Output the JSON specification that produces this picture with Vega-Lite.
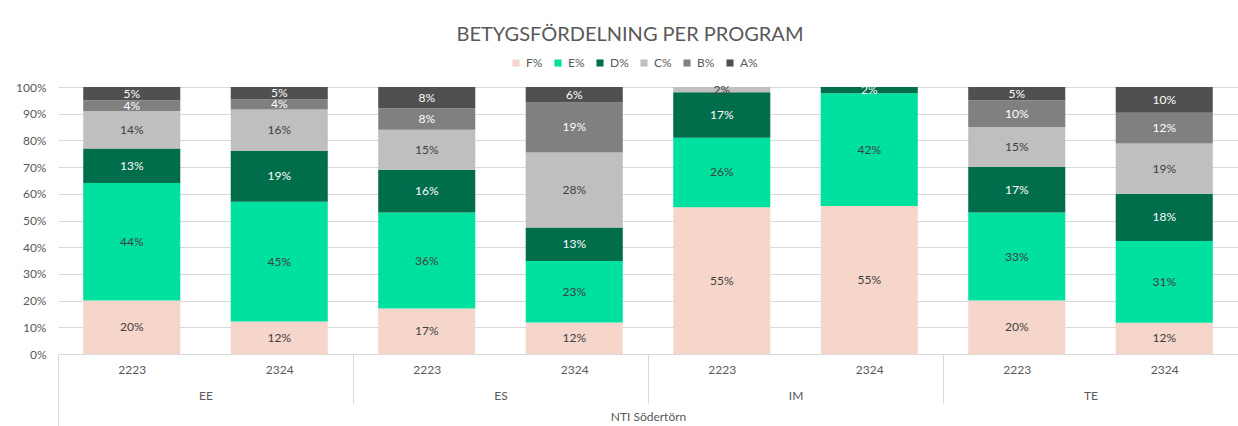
{
  "$schema": "https://vega.github.io/schema/vega-lite/v6.json",
  "width": 1180,
  "height": 267,
  "autosize": {"type": "none"},
  "padding": {"left": 58, "top": 87, "right": 0, "bottom": 72},
  "background": "white",
  "config": {"font": "Lato", "view": {"stroke": null}},
  "title": {"text": "BETYGSFÖRDELNING PER PROGRAM", "fontSize": 20, "fontWeight": "normal", "color": "#595959", "anchor": "middle", "dx": -18, "offset": 12},
  "data": {"values": [
    {"Kategori": "EE|2223", "Program": "EE", "Läsår": "2223", "Betyg": "F%", "Andel": 0.20},
    {"Kategori": "EE|2223", "Program": "EE", "Läsår": "2223", "Betyg": "E%", "Andel": 0.44},
    {"Kategori": "EE|2223", "Program": "EE", "Läsår": "2223", "Betyg": "D%", "Andel": 0.13},
    {"Kategori": "EE|2223", "Program": "EE", "Läsår": "2223", "Betyg": "C%", "Andel": 0.14},
    {"Kategori": "EE|2223", "Program": "EE", "Läsår": "2223", "Betyg": "B%", "Andel": 0.04},
    {"Kategori": "EE|2223", "Program": "EE", "Läsår": "2223", "Betyg": "A%", "Andel": 0.05},
    {"Kategori": "EE|2324", "Program": "EE", "Läsår": "2324", "Betyg": "F%", "Andel": 0.122},
    {"Kategori": "EE|2324", "Program": "EE", "Läsår": "2324", "Betyg": "E%", "Andel": 0.448},
    {"Kategori": "EE|2324", "Program": "EE", "Läsår": "2324", "Betyg": "D%", "Andel": 0.19},
    {"Kategori": "EE|2324", "Program": "EE", "Läsår": "2324", "Betyg": "C%", "Andel": 0.156},
    {"Kategori": "EE|2324", "Program": "EE", "Läsår": "2324", "Betyg": "B%", "Andel": 0.038},
    {"Kategori": "EE|2324", "Program": "EE", "Läsår": "2324", "Betyg": "A%", "Andel": 0.046},
    {"Kategori": "ES|2223", "Program": "ES", "Läsår": "2223", "Betyg": "F%", "Andel": 0.17},
    {"Kategori": "ES|2223", "Program": "ES", "Läsår": "2223", "Betyg": "E%", "Andel": 0.36},
    {"Kategori": "ES|2223", "Program": "ES", "Läsår": "2223", "Betyg": "D%", "Andel": 0.16},
    {"Kategori": "ES|2223", "Program": "ES", "Läsår": "2223", "Betyg": "C%", "Andel": 0.15},
    {"Kategori": "ES|2223", "Program": "ES", "Läsår": "2223", "Betyg": "B%", "Andel": 0.08},
    {"Kategori": "ES|2223", "Program": "ES", "Läsår": "2223", "Betyg": "A%", "Andel": 0.08},
    {"Kategori": "ES|2324", "Program": "ES", "Läsår": "2324", "Betyg": "F%", "Andel": 0.118},
    {"Kategori": "ES|2324", "Program": "ES", "Läsår": "2324", "Betyg": "E%", "Andel": 0.23},
    {"Kategori": "ES|2324", "Program": "ES", "Läsår": "2324", "Betyg": "D%", "Andel": 0.126},
    {"Kategori": "ES|2324", "Program": "ES", "Läsår": "2324", "Betyg": "C%", "Andel": 0.281},
    {"Kategori": "ES|2324", "Program": "ES", "Läsår": "2324", "Betyg": "B%", "Andel": 0.187},
    {"Kategori": "ES|2324", "Program": "ES", "Läsår": "2324", "Betyg": "A%", "Andel": 0.058},
    {"Kategori": "IM|2223", "Program": "IM", "Läsår": "2223", "Betyg": "F%", "Andel": 0.55},
    {"Kategori": "IM|2223", "Program": "IM", "Läsår": "2223", "Betyg": "E%", "Andel": 0.26},
    {"Kategori": "IM|2223", "Program": "IM", "Läsår": "2223", "Betyg": "D%", "Andel": 0.17},
    {"Kategori": "IM|2223", "Program": "IM", "Läsår": "2223", "Betyg": "C%", "Andel": 0.02},
    {"Kategori": "IM|2324", "Program": "IM", "Läsår": "2324", "Betyg": "F%", "Andel": 0.554},
    {"Kategori": "IM|2324", "Program": "IM", "Läsår": "2324", "Betyg": "E%", "Andel": 0.423},
    {"Kategori": "IM|2324", "Program": "IM", "Läsår": "2324", "Betyg": "D%", "Andel": 0.023},
    {"Kategori": "TE|2223", "Program": "TE", "Läsår": "2223", "Betyg": "F%", "Andel": 0.20},
    {"Kategori": "TE|2223", "Program": "TE", "Läsår": "2223", "Betyg": "E%", "Andel": 0.33},
    {"Kategori": "TE|2223", "Program": "TE", "Läsår": "2223", "Betyg": "D%", "Andel": 0.17},
    {"Kategori": "TE|2223", "Program": "TE", "Läsår": "2223", "Betyg": "C%", "Andel": 0.15},
    {"Kategori": "TE|2223", "Program": "TE", "Läsår": "2223", "Betyg": "B%", "Andel": 0.10},
    {"Kategori": "TE|2223", "Program": "TE", "Läsår": "2223", "Betyg": "A%", "Andel": 0.05},
    {"Kategori": "TE|2324", "Program": "TE", "Läsår": "2324", "Betyg": "F%", "Andel": 0.117},
    {"Kategori": "TE|2324", "Program": "TE", "Läsår": "2324", "Betyg": "E%", "Andel": 0.306},
    {"Kategori": "TE|2324", "Program": "TE", "Läsår": "2324", "Betyg": "D%", "Andel": 0.177},
    {"Kategori": "TE|2324", "Program": "TE", "Läsår": "2324", "Betyg": "C%", "Andel": 0.188},
    {"Kategori": "TE|2324", "Program": "TE", "Läsår": "2324", "Betyg": "B%", "Andel": 0.116},
    {"Kategori": "TE|2324", "Program": "TE", "Läsår": "2324", "Betyg": "A%", "Andel": 0.096}
  ]},
  "layer": [
    {
      "mark": {"type": "bar"},
      "encoding": {
        "x": {"field": "Kategori", "type": "nominal", "sort": null,
          "scale": {"paddingInner": 0.342, "paddingOuter": 0.171},
          "axis": {"orient": "bottom", "title": null, "labelExpr": "split(datum.label, '|')[1]", "labelAngle": 0, "bandPosition": 0, "tickOffset": -25.2, "labelOffset": 25.2, "ticks": true, "tickSize": 72, "tickColor": "#D9D9D9", "tickOpacity": {"condition": {"test": "datum.value == 'EE|2223'", "value": 1}, "value": 0}, "domain": true, "domainColor": "#D9D9D9", "labelPadding": -62, "labelFontSize": 12, "labelColor": "#595959"}},
        "y": {"field": "Andel", "type": "quantitative", "stack": "zero",
          "scale": {"domain": [0, 1]},
          "axis": {"title": null, "values": [0, 0.1, 0.2, 0.3, 0.4, 0.5, 0.6, 0.7, 0.8, 0.9, 1], "format": ".0%", "domain": false, "ticks": false, "labelPadding": 12, "labelFontSize": 12, "labelColor": "#595959", "gridColor": "#D9D9D9", "labelOverlap": false}},
        "color": {"field": "Betyg", "type": "nominal",
          "scale": {"domain": ["F%", "E%", "D%", "C%", "B%", "A%"], "range": ["#F6D5CB", "#00E09E", "#006D4B", "#BFBFBF", "#808080", "#505050"]},
          "legend": {"orient": "none", "legendX": 452, "legendY": -30, "direction": "horizontal", "title": null, "symbolType": "square", "symbolSize": 50, "symbolStrokeWidth": 0, "labelFontSize": 12, "labelColor": "#595959", "columnPadding": 9}},
        "order": {"field": "Betyg", "sort": "descending"}
      }
    },
    {
      "mark": {"type": "text", "fontSize": 12, "baseline": "middle"},
      "encoding": {
        "x": {"field": "Kategori", "type": "nominal", "sort": null,
          "axis": {"orient": "bottom", "title": "NTI Södertörn", "labelExpr": "indexof(datum.label, '2223') >= 0 ? split(datum.label, '|')[0] : ''", "labelAngle": 0, "bandPosition": 0, "tickOffset": -25.2, "labelOffset": 99, "ticks": true, "tickColor": "#D9D9D9", "tickSize": 49, "tickOpacity": {"condition": {"test": "indexof(datum.value, '2223') >= 0", "value": 1}, "value": 0}, "domain": false, "labelPadding": -13, "labelFontSize": 12, "labelColor": "#595959", "titleFontSize": 12, "titleFontWeight": "normal", "titleColor": "#595959", "titlePadding": 8}},
        "y": {"field": "Andel", "type": "quantitative", "stack": "zero", "bandPosition": 0.5,
          "axis": {"title": null, "values": [0, 0.1, 0.2, 0.3, 0.4, 0.5, 0.6, 0.7, 0.8, 0.9, 1], "format": ".0%", "domain": false, "ticks": false, "labelPadding": 12, "labelFontSize": 12, "labelColor": "#595959", "gridColor": "#D9D9D9", "labelOverlap": false}},
        "text": {"field": "Andel", "type": "quantitative", "format": ".0%"},
        "order": {"field": "Betyg", "sort": "descending"},
        "color": {"condition": {"test": "indexof(['D%', 'B%', 'A%'], datum.Betyg) >= 0", "value": "#FFFFFF"}, "value": "#404040"}
      }
    }
  ],
  "resolve": {"axis": {"x": "independent"}}
}
